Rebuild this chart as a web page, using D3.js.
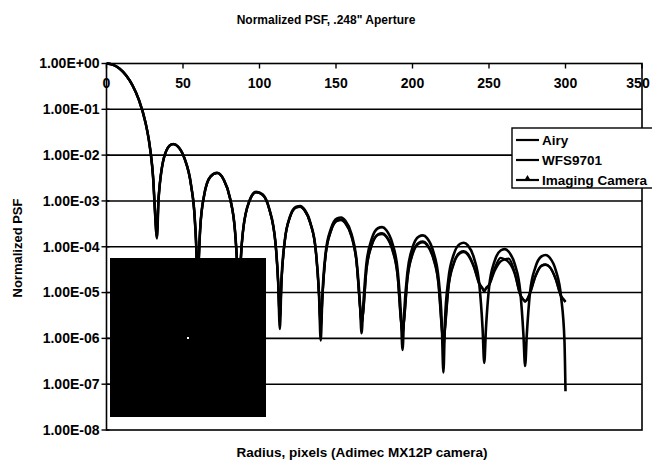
<!DOCTYPE html>
<html><head><meta charset="utf-8">
<script src="https://cdn.jsdelivr.net/npm/d3@7"></script>
<style>
body{margin:0;background:#fff;}
svg{display:block;}
text{font-family:"Liberation Sans",Arial,Helvetica,sans-serif;font-weight:bold;fill:#000;}
</style>
</head><body>
<svg id="c" width="652" height="461"></svg>
<script>
// ---- data ----
const radius = [
  0, 4.25, 8.5, 12.75, 17, 21.25, 25.5, 27.6, 29.75, 30.6, 31.45, 33,
  34, 38.25, 42.5, 43.7, 46.75, 51, 55.25, 57.8, 58.9, 59.6,
  60.35, 61.2, 63.75, 68, 72.25, 76.5, 80.75, 84.15, 85.4, 86.5,
  87.6, 89.25, 93.5, 97.75, 102, 106.25, 110.5, 112.2, 113.3,
  114.3, 116.5, 119.9, 124.0, 126.6, 129.3, 133.3, 136.8, 138.9, 140.0,
  141.1, 143.2, 146.7, 150.7, 153.4, 156.0, 160.1, 163.5, 165.7, 166.7,
  167.8, 169.9, 173.4, 177.4, 180.1, 182.8, 186.8, 190.3, 192.4, 193.5,
  194.5, 196.7, 200.1, 204.1, 206.8, 209.5, 213.5, 217.0, 219.1, 220.2,
  221.2, 223.4, 226.9, 230.9, 233.5, 236.2, 240.2, 243.7, 245.8, 246.9,
  248.0, 250.1, 253.6, 257.6, 260.3, 262.9, 266.9, 270.4, 272.5, 273.6,
  274.7, 276.8, 280.3, 284.3, 287.0, 289.6, 293.6, 297.1, 299.3, 300
];
const airy = [
  1, 0.939, 0.775, 0.553, 0.333, 0.158, 0.0511, 0.0223, 6.16e-3, 2.8e-3, 8.2e-4, 1.6e-4,
  1.09e-3, 1.055e-2, 1.717e-2, 1.75e-2, 1.541e-2, 8.51e-3, 2.24e-3, 3.6e-4, 5.5e-5, 3e-6,
  5.1e-5, 2.36e-4, 1.3e-3, 3.44e-3, 4.13e-3, 2.97e-3, 1.15e-3, 1.9e-4, 3.8e-5, 2e-6,
  3.8e-5, 2.26e-4, 1.03e-3, 1.58e-3, 1.39e-3, 7.0e-4, 1.17e-4, 1.67e-5, 1.6e-6,
  1.64e-5, 1.341e-4, 4.53e-4, 7.43e-4, 7.70e-4, 6.54e-4, 3.30e-4, 8.27e-5, 9.16e-6, 9e-7,
  8.76e-6, 7.22e-5, 2.48e-4, 4.14e-4, 4.34e-4, 3.73e-4, 1.91e-4, 4.85e-5, 5.41e-6, 1.3e-6,
  5.21e-6, 4.32e-5, 1.50e-4, 2.535e-4, 2.68e-4, 2.319e-4, 1.201e-4, 3.08e-5, 3.45e-6, 5.6e-7,
  3.34e-6, 2.79e-5, 9.77e-5, 1.665e-4, 1.77e-4, 1.54e-4, 8.04e-5, 2.08e-5, 2.34e-6, 1.8e-7,
  2.27e-6, 1.9e-5, 6.69e-5, 1.149e-4, 1.227e-4, 1.0725e-4, 5.64e-5, 1.463e-5, 1.65e-6, 2.9e-7,
  1.61e-6, 1.355e-5, 4.8e-5, 8.28e-5, 8.87e-5, 7.78e-5, 4.11e-5, 1.071e-5, 1.21e-6, 2.5e-7,
  1.19e-6, 1.0e-5, 3.55e-5, 6.16e-5, 6.62e-5, 5.82e-5, 3.09e-5, 8.08e-6, 9.2e-7, 7e-8
];
const wfs9701 = [
  1, 0.94, 0.776, 0.555, 0.335, 0.16, 0.052, 0.0226, 6.3e-3, 2.9e-3, 8.6e-4, 1.9e-4,
  1.12e-3, 1.06e-2, 1.72e-2, 1.74e-2, 1.53e-2, 8.4e-3, 2.2e-3, 3.7e-4, 6e-5, 5e-6,
  5.5e-5, 2.4e-4, 1.28e-3, 3.38e-3, 4.05e-3, 2.93e-3, 1.13e-3, 1.95e-4, 4e-5, 4e-6,
  4e-5, 2.25e-4, 1.01e-3, 1.55e-3, 1.36e-3, 6.85e-4, 1.15e-4, 1.7e-5, 2.5e-6,
  1.6e-5, 1.31e-4, 4.42e-4, 7.25e-4, 7.5e-4, 6.38e-4, 3.22e-4, 8.1e-5, 9.0e-6, 1.5e-6,
  7.9e-6, 6.5e-5, 2.23e-4, 3.73e-4, 3.91e-4, 3.36e-4, 1.72e-4, 4.37e-5, 4.9e-6, 2e-6,
  3.9e-6, 3.2e-5, 1.11e-4, 1.88e-4, 1.98e-4, 1.72e-4, 8.9e-5, 2.28e-5, 2.6e-6, 1.2e-6,
  2.5e-6, 2.06e-5, 7.2e-5, 1.23e-4, 1.31e-4, 1.14e-4, 5.95e-5, 1.54e-5, 1.8e-6, 6e-7,
  1.6e-6, 1.24e-5, 4.35e-5, 7.5e-5, 8.0e-5, 7.0e-5, 3.7e-5, 1.6e-5, 1.25e-5, 1.1e-5,
  1.25e-5, 1.5e-5, 3.3e-5, 5.7e-5, 5.3e-5, 4.6e-5, 2.5e-5, 9e-6, 7e-6, 6.5e-6,
  7e-6, 1.0e-5, 2.3e-5, 3.9e-5, 4.1e-5, 3.65e-5, 2.0e-5, 8.5e-6, 6.8e-6, 6.3e-6
];
const imagingCamera = [
  1, 0.938, 0.774, 0.552, 0.332, 0.157, 0.0508, 0.0221, 6.1e-3, 2.75e-3, 8.0e-4, 1.5e-4,
  1.08e-3, 1.05e-2, 1.71e-2, 1.74e-2, 1.54e-2, 8.45e-3, 2.22e-3, 3.5e-4, 5.2e-5, 4e-6,
  5.3e-5, 2.35e-4, 1.29e-3, 3.4e-3, 4.08e-3, 2.95e-3, 1.14e-3, 1.88e-4, 3.7e-5, 3e-6,
  3.9e-5, 2.22e-4, 1.0e-3, 1.54e-3, 1.35e-3, 6.8e-4, 1.14e-4, 1.65e-5, 2.2e-6,
  1.6e-5, 1.30e-4, 4.40e-4, 7.2e-4, 7.46e-4, 6.33e-4, 3.2e-4, 8.0e-5, 9.0e-6, 1.8e-6,
  7.7e-6, 6.35e-5, 2.18e-4, 3.64e-4, 3.82e-4, 3.28e-4, 1.68e-4, 4.27e-5, 4.8e-6, 2.2e-6,
  3.7e-6, 3.07e-5, 1.07e-4, 1.8e-4, 1.9e-4, 1.65e-4, 8.5e-5, 2.19e-5, 2.5e-6, 1.4e-6,
  2.4e-6, 1.95e-5, 6.85e-5, 1.17e-4, 1.24e-4, 1.08e-4, 5.6e-5, 1.46e-5, 1.7e-6, 8e-7,
  1.5e-6, 1.18e-5, 4.15e-5, 7.1e-5, 7.6e-5, 6.6e-5, 3.5e-5, 1.5e-5, 1.2e-5, 1.05e-5,
  1.2e-5, 1.45e-5, 2.9e-5, 4.8e-5, 5.3e-5, 5.5e-5, 2.7e-5, 9e-6, 7e-6, 6.3e-6,
  6.8e-6, 9.5e-6, 2.2e-5, 3.8e-5, 4.05e-5, 3.6e-5, 1.95e-5, 8.2e-6, 6.6e-6, 6.2e-6
];
const seriesNames = ["Airy", "WFS9701", "Imaging Camera"];
const xTickValues = [0, 50, 100, 150, 200, 250, 300, 350];
const yTickValues = [1, 1e-1, 1e-2, 1e-3, 1e-4, 1e-5, 1e-6, 1e-7, 1e-8];
const yTickLabels = ["1.00E+00","1.00E-01","1.00E-02","1.00E-03","1.00E-04","1.00E-05","1.00E-06","1.00E-07","1.00E-08"];
const titleText = "Normalized PSF, .248\" Aperture";
const xTitle = "Radius, pixels (Adimec MX12P camera)";
const yTitle = "Normalized PSF";

// ---- layout ----
const svg = d3.select("#c");
const L = 106.5, R = 642, T = 63.5, B = 430;
const x = d3.scaleLinear().domain([0, 350]).range([L, R]);
const y = d3.scaleLog().domain([1e-8, 1]).range([B, T]);

// gridlines
svg.append("g").selectAll("line").data(yTickValues.slice(1, -1)).join("line")
  .attr("x1", L).attr("x2", R).attr("y1", d => y(d)).attr("y2", d => y(d))
  .attr("stroke", "#000").attr("stroke-width", 1.6);

// frame
svg.append("rect").attr("x", L).attr("y", T).attr("width", R - L).attr("height", B - T)
  .attr("fill", "none").attr("stroke", "#000").attr("stroke-width", 1.6);

// top x axis ticks (inside)
svg.append("g").selectAll("line").data(xTickValues).join("line")
  .attr("x1", d => x(d)).attr("x2", d => x(d)).attr("y1", T).attr("y2", T + 5)
  .attr("stroke", "#000").attr("stroke-width", 1.4);
svg.append("g").selectAll("text").data(xTickValues).join("text")
  .attr("x", d => Math.min(x(d), 638)).attr("y", T + 24).attr("text-anchor", "middle")
  .attr("font-size", 14).text(d => d);

// y axis ticks and labels
svg.append("g").selectAll("line").data(yTickValues).join("line")
  .attr("x1", L - 5).attr("x2", L + 3).attr("y1", d => y(d)).attr("y2", d => y(d))
  .attr("stroke", "#000").attr("stroke-width", 1.4);
svg.append("g").selectAll("text").data(yTickValues).join("text")
  .attr("x", L - 7).attr("y", d => y(d)).attr("dy", "0.35em").attr("text-anchor", "end")
  .attr("font-size", 14).text((d, i) => yTickLabels[i]);

// series lines
svg.append("clipPath").attr("id", "pc").append("rect")
  .attr("x", L).attr("y", T - 3).attr("width", R - L).attr("height", B - T + 3);
const lineGen = vals => d3.line()
  .x((d, i) => x(radius[i])).y(d => y(d)).curve(d3.curveMonotoneX)(vals);
const seriesVals = [airy, wfs9701, imagingCamera];
const widths = [2.6, 2.3, 2.3];
svg.append("g").attr("clip-path", "url(#pc)").selectAll("path").data(seriesVals).join("path")
  .attr("d", d => lineGen(d)).attr("fill", "none").attr("stroke", "#000")
  .attr("stroke-width", (d, i) => widths[i]).attr("stroke-linejoin", "round");

// inset image (black square)
svg.append("rect").attr("x", 110).attr("y", 258).attr("width", 156).attr("height", 159).attr("fill", "#000");
svg.append("rect").attr("x", 187).attr("y", 337).attr("width", 2).attr("height", 2).attr("fill", "#fff");

// legend
const lg = svg.append("g");
lg.append("rect").attr("x", 512).attr("y", 128).attr("width", 150).attr("height", 60)
  .attr("fill", "#fff").attr("stroke", "#000").attr("stroke-width", 1.4);
seriesNames.forEach((n, i) => {
  const yy = 140 + i * 20;
  lg.append("line").attr("x1", 516).attr("x2", 539).attr("y1", yy).attr("y2", yy)
    .attr("stroke", "#000").attr("stroke-width", 2.2);
  if (i === 2) {
    lg.append("path").attr("d", d3.symbol(d3.symbolTriangle, 22)())
      .attr("transform", `translate(527.5,${yy - 1})`).attr("fill", "#000");
  }
  lg.append("text").attr("x", 542).attr("y", yy).attr("dy", "0.35em")
    .attr("font-size", 13.5).text(n);
});

// titles
svg.append("text").attr("x", 326).attr("y", 20).attr("dy", "0.35em").attr("text-anchor", "middle")
  .attr("font-size", 12).text(titleText);
svg.append("text").attr("x", 362).attr("y", 452).attr("dy", "0.35em").attr("text-anchor", "middle")
  .attr("font-size", 13.5).text(xTitle);
svg.append("text").attr("transform", "translate(17,248) rotate(-90)").attr("dy", "0.35em")
  .attr("text-anchor", "middle").attr("font-size", 13).text(yTitle);
</script>
</body></html>
